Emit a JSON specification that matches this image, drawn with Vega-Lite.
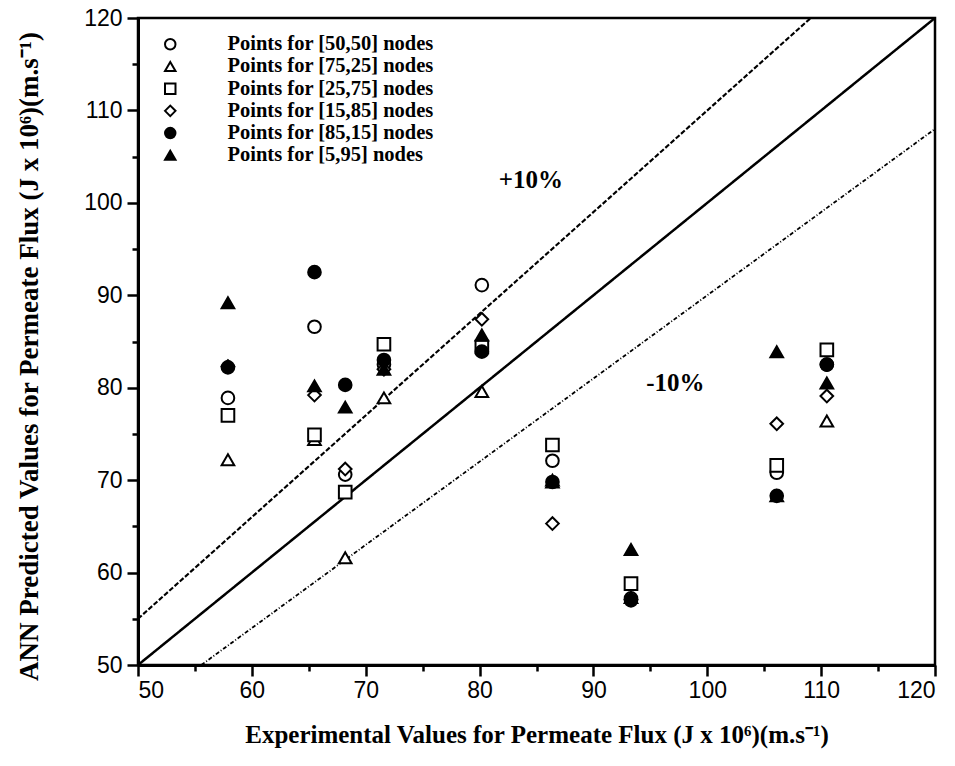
{
  "$schema": "https://vega.github.io/schema/vega-lite/v6.json",
  "width": 797,
  "height": 647,
  "autosize": "none",
  "padding": {"left": 138, "top": 18, "right": 20, "bottom": 101},
  "background": "white",
  "config": {
    "view": {"stroke": "black", "strokeWidth": 2.5},
    "axis": {
      "grid": false,
      "domainColor": "black",
      "domainWidth": 3,
      "tickColor": "black",
      "tickWidth": 2.5,
      "labelFont": "Liberation Sans Narrow, Arial Narrow, Liberation Sans",
      "labelFontSize": 23,
      "labelColor": "black",
      "titleFont": "Liberation Serif",
      "titleFontWeight": "bold",
      "titleFontSize": 25,
      "titleColor": "black"
    }
  },
  "datasets": {
    "pts": [
      {"x": 57.9, "y": 78.9, "s": "Points for [50,50] nodes"},
      {"x": 65.5, "y": 86.6, "s": "Points for [50,50] nodes"},
      {"x": 68.2, "y": 70.6, "s": "Points for [50,50] nodes"},
      {"x": 71.6, "y": 82.5, "s": "Points for [50,50] nodes"},
      {"x": 80.2, "y": 91.1, "s": "Points for [50,50] nodes"},
      {"x": 86.4, "y": 72.1, "s": "Points for [50,50] nodes"},
      {"x": 93.3, "y": 57.2, "s": "Points for [50,50] nodes"},
      {"x": 106.1, "y": 70.8, "s": "Points for [50,50] nodes"},
      {"x": 110.5, "y": 82.5, "s": "Points for [50,50] nodes"},
      {"x": 57.9, "y": 72.2, "s": "Points for [75,25] nodes"},
      {"x": 65.5, "y": 74.4, "s": "Points for [75,25] nodes"},
      {"x": 68.2, "y": 61.6, "s": "Points for [75,25] nodes"},
      {"x": 71.6, "y": 78.9, "s": "Points for [75,25] nodes"},
      {"x": 80.2, "y": 79.6, "s": "Points for [75,25] nodes"},
      {"x": 86.4, "y": 69.8, "s": "Points for [75,25] nodes"},
      {"x": 93.3, "y": 57.3, "s": "Points for [75,25] nodes"},
      {"x": 106.1, "y": 68.3, "s": "Points for [75,25] nodes"},
      {"x": 110.5, "y": 76.4, "s": "Points for [75,25] nodes"},
      {"x": 57.9, "y": 77.0, "s": "Points for [25,75] nodes"},
      {"x": 65.5, "y": 74.9, "s": "Points for [25,75] nodes"},
      {"x": 68.2, "y": 68.7, "s": "Points for [25,75] nodes"},
      {"x": 71.6, "y": 84.7, "s": "Points for [25,75] nodes"},
      {"x": 80.2, "y": 84.4, "s": "Points for [25,75] nodes"},
      {"x": 86.4, "y": 73.8, "s": "Points for [25,75] nodes"},
      {"x": 93.3, "y": 58.8, "s": "Points for [25,75] nodes"},
      {"x": 106.1, "y": 71.6, "s": "Points for [25,75] nodes"},
      {"x": 110.5, "y": 84.1, "s": "Points for [25,75] nodes"},
      {"x": 57.9, "y": 82.3, "s": "Points for [15,85] nodes"},
      {"x": 65.5, "y": 79.2, "s": "Points for [15,85] nodes"},
      {"x": 68.2, "y": 71.2, "s": "Points for [15,85] nodes"},
      {"x": 71.6, "y": 82.0, "s": "Points for [15,85] nodes"},
      {"x": 80.2, "y": 87.4, "s": "Points for [15,85] nodes"},
      {"x": 86.4, "y": 65.3, "s": "Points for [15,85] nodes"},
      {"x": 93.3, "y": 57.1, "s": "Points for [15,85] nodes"},
      {"x": 106.1, "y": 76.1, "s": "Points for [15,85] nodes"},
      {"x": 110.5, "y": 79.1, "s": "Points for [15,85] nodes"},
      {"x": 57.9, "y": 82.2, "s": "Points for [85,15] nodes"},
      {"x": 65.5, "y": 92.5, "s": "Points for [85,15] nodes"},
      {"x": 68.2, "y": 80.3, "s": "Points for [85,15] nodes"},
      {"x": 71.6, "y": 83.0, "s": "Points for [85,15] nodes"},
      {"x": 80.2, "y": 83.9, "s": "Points for [85,15] nodes"},
      {"x": 86.4, "y": 69.8, "s": "Points for [85,15] nodes"},
      {"x": 93.3, "y": 57.0, "s": "Points for [85,15] nodes"},
      {"x": 106.1, "y": 68.3, "s": "Points for [85,15] nodes"},
      {"x": 110.5, "y": 82.5, "s": "Points for [85,15] nodes"},
      {"x": 57.9, "y": 89.2, "s": "Points for [5,95] nodes"},
      {"x": 65.5, "y": 80.2, "s": "Points for [5,95] nodes"},
      {"x": 68.2, "y": 77.9, "s": "Points for [5,95] nodes"},
      {"x": 71.6, "y": 82.0, "s": "Points for [5,95] nodes"},
      {"x": 80.2, "y": 85.7, "s": "Points for [5,95] nodes"},
      {"x": 86.4, "y": 70.0, "s": "Points for [5,95] nodes"},
      {"x": 93.3, "y": 62.5, "s": "Points for [5,95] nodes"},
      {"x": 106.1, "y": 83.9, "s": "Points for [5,95] nodes"},
      {"x": 110.5, "y": 80.5, "s": "Points for [5,95] nodes"}
    ],
    "lines": [
      {"line": "ideal", "x": 50, "y": 50},
      {"line": "ideal", "x": 120, "y": 120},
      {"line": "plus", "x": 50, "y": 55},
      {"line": "plus", "x": 109.09, "y": 120},
      {"line": "minus", "x": 55.56, "y": 50},
      {"line": "minus", "x": 120, "y": 108}
    ],
    "labels": [
      {"x": 84.5, "y": 102.5, "t": "+10%"},
      {"x": 97.2, "y": 80.5, "t": "-10%"}
    ]
  },
  "layer": [
    {
      "data": {"name": "lines"},
      "mark": {"type": "line", "color": "black", "clip": true},
      "encoding": {
        "x": {"field": "x", "type": "quantitative", "scale": {"domain": [50, 120], "nice": false, "zero": false},
          "axis": {
            "values": [50, 55, 60, 65, 70, 75, 80, 85, 90, 95, 100, 105, 110, 115, 120],
            "labelExpr": "datum.value % 10 === 0 ? datum.label : ''",
            "tickSize": {"condition": {"test": "datum.value % 10 === 0", "value": 11}, "value": 6},
            "labelPadding": 3,
            "titlePadding": 20,
            "title": "Experimental Values for Permeate Flux (J x 10⁶)(m.s⁻¹)"
          }},
        "y": {"field": "y", "type": "quantitative", "scale": {"domain": [50, 120], "nice": false, "zero": false},
          "axis": {
            "values": [50, 55, 60, 65, 70, 75, 80, 85, 90, 95, 100, 105, 110, 115, 120],
            "labelExpr": "datum.value % 10 === 0 ? datum.label : ''",
            "tickSize": {"condition": {"test": "datum.value % 10 === 0", "value": 11}, "value": 6},
            "labelPadding": 5,
            "titleFontSize": 27,
            "titleAngle": -90,
            "titleX": -109,
            "titleY": 338,
            "titleAlign": "center",
            "titleBaseline": "middle",
            "title": "ANN Predicted Values for Permeate Flux (J x 10⁶)(m.s⁻¹)"
          }},
        "detail": {"field": "line"},
        "strokeDash": {"field": "line", "type": "nominal", "legend": null,
          "scale": {"domain": ["ideal", "plus", "minus"], "range": [[1, 0], [5, 2], [4, 2, 1, 2]]}},
        "strokeWidth": {"field": "line", "type": "nominal", "legend": null,
          "scale": {"domain": ["ideal", "plus", "minus"], "range": [2.5, 1.8, 1.6]}}
      }
    },
    {
      "data": {"name": "pts"},
      "mark": {"type": "point", "filled": false, "size": 160, "strokeWidth": 2, "opacity": 1},
      "encoding": {
        "x": {"field": "x", "type": "quantitative"},
        "y": {"field": "y", "type": "quantitative"},
        "shape": {"field": "s", "type": "nominal",
          "scale": {"domain": ["Points for [50,50] nodes", "Points for [75,25] nodes", "Points for [25,75] nodes", "Points for [15,85] nodes", "Points for [85,15] nodes", "Points for [5,95] nodes"],
            "range": ["circle", "triangle-up", "square", "diamond", "circle", "triangle-up"]},
          "legend": {
            "title": null,
            "orient": "none",
            "legendX": 22,
            "legendY": 16,
            "labelFont": "Liberation Serif",
            "labelFontWeight": "bold",
            "labelFontSize": 20.5,
            "labelColor": "black",
            "labelLimit": 0,
            "symbolSize": 110,
            "symbolStrokeWidth": 2,
            "labelOffset": 47,
            "rowPadding": 1.2,
            "symbolOpacity": 1
          }},
        "stroke": {"field": "s", "type": "nominal",
          "scale": {"domain": ["Points for [50,50] nodes", "Points for [75,25] nodes", "Points for [25,75] nodes", "Points for [15,85] nodes", "Points for [85,15] nodes", "Points for [5,95] nodes"],
            "range": ["black", "black", "black", "black", "black", "black"]}},
        "fill": {"field": "s", "type": "nominal",
          "scale": {"domain": ["Points for [50,50] nodes", "Points for [75,25] nodes", "Points for [25,75] nodes", "Points for [15,85] nodes", "Points for [85,15] nodes", "Points for [5,95] nodes"],
            "range": ["white", "white", "white", "white", "black", "black"]}}
      }
    },
    {
      "data": {"name": "labels"},
      "mark": {"type": "text", "font": "Liberation Serif", "fontWeight": "bold", "fontSize": 25, "color": "black", "align": "center", "baseline": "middle"},
      "encoding": {
        "x": {"field": "x", "type": "quantitative"},
        "y": {"field": "y", "type": "quantitative"},
        "text": {"field": "t"}
      }
    }
  ]
}
